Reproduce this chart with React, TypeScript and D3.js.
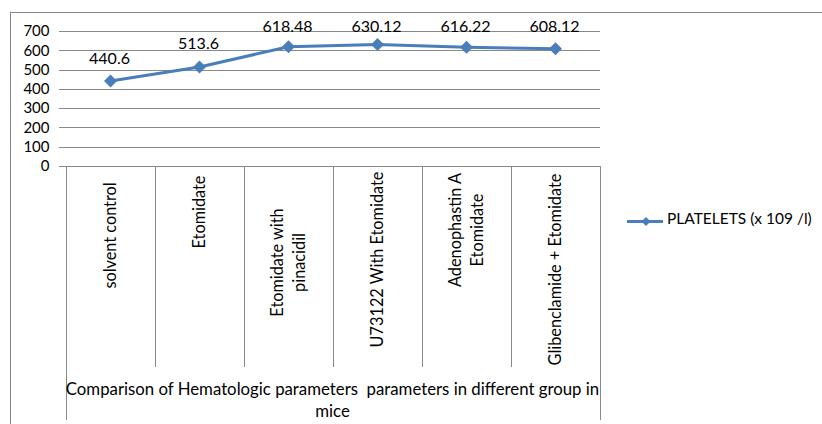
import React from "react";
import * as d3 from "d3";

// Platelet counts per treatment group
const categories: string[][] = [
  ["solvent control"],
  ["Etomidate"],
  ["Etomidate with", "pinacidil"],
  ["U73122 With Etomidate"],
  ["Adenophastin A", "Etomidate"],
  ["Glibenclamide + Etomidate"],
];
const platelets: number[] = [440.6, 513.6, 618.48, 630.12, 616.22, 608.12];
const yTicks: number[] = [0, 100, 200, 300, 400, 500, 600, 700];
const seriesName = "PLATELETS (x 109 /l)";
const axisTitle = [
  "Comparison of Hematologic parameters  parameters in different group in",
  "mice",
];

const W = 822;
const H = 424;
const plot = { left: 66, right: 600, top: 31, bottom: 166 };
// vertical centre of each rotated category label, measured below the axis
const labelCentre = [69.5, 46, 96.5, 93.5, 64, 103.5];

const FONT = "Lato, 'Open Sans', sans-serif";
const BLUE = "#4A7EBB";
const GRID = "#898989";

export default function App() {
  const keys = categories.map((_, i) => String(i));
  const x = d3.scaleBand<string>().domain(keys).range([plot.left, plot.right]);
  const y = d3.scaleLinear().domain([0, 700]).range([plot.bottom, plot.top]);
  const cx = (i: number) => (x(String(i)) ?? 0) + x.bandwidth() / 2;

  const line = d3
    .line<number>()
    .x((_, i) => cx(i))
    .y((d) => y(d));

  const diamond = (s: number) => `M0,${-s} L${s},0 L0,${s} L${-s},0 Z`;

  return (
    <svg
      width={W}
      height={H}
      style={{ position: "absolute", left: 0, top: 0, background: "#fff" }}
      fontFamily={FONT}
    >
      {/* chart frame */}
      <rect x={10.5} y={12.5} width={W} height={H} fill="none" stroke="#868686" strokeWidth={1} />

      {/* gridlines and value ticks */}
      {yTicks.map((t) => (
        <g key={t}>
          <line
            x1={plot.left - 7}
            x2={plot.right}
            y1={Math.round(y(t)) + 0.5}
            y2={Math.round(y(t)) + 0.5}
            stroke={GRID}
            strokeWidth={1}
          />
          <text
            x={49.5}
            y={y(t)}
            dy="0.35em"
            textAnchor="end"
            fontSize={15}
            fill="#000"
          >
            {t}
          </text>
        </g>
      ))}

      {/* category dividers */}
      {d3.range(categories.length + 1).map((i) => {
        const xx = Math.round(plot.left + i * x.bandwidth()) + 0.5;
        const outer = i === 0 || i === categories.length;
        return (
          <line
            key={i}
            x1={xx}
            x2={xx}
            y1={plot.bottom}
            y2={outer ? 420 : 367}
            stroke={GRID}
            strokeWidth={1}
          />
        );
      })}

      {/* rotated category labels */}
      {categories.map((lines, i) => {
        const c = cx(i);
        const cyy = plot.bottom + labelCentre[i];
        const n = lines.length;
        return (
          <g key={i}>
            {lines.map((ln, j) => {
              const lx = c + (j - (n - 1) / 2) * 22 + 5.5;
              return (
                <text
                  key={j}
                  transform={`translate(${lx},${cyy}) rotate(-90)`}
                  textAnchor="middle"
                  fontSize={16.3}
                  fill="#000"
                >
                  {ln}
                </text>
              );
            })}
          </g>
        );
      })}

      {/* axis title */}
      {axisTitle.map((t, i) => (
        <text
          key={i}
          x={(plot.left + plot.right) / 2 - 0.5}
          y={395 + i * 22}
          textAnchor="middle"
          fontSize={16.8}
          fill="#000"
          style={{ whiteSpace: "pre" }}
        >
          {t}
        </text>
      ))}

      {/* series line */}
      <path d={line(platelets) ?? ""} fill="none" stroke={BLUE} strokeWidth={3} strokeLinejoin="round" />
      {platelets.map((v, i) => (
        <path key={i} d={diamond(6.5)} transform={`translate(${cx(i)},${y(v)})`} fill={BLUE} />
      ))}

      {/* data labels */}
      {platelets.map((v, i) => (
        <text
          key={i}
          x={cx(i) - 1}
          y={Math.max(y(v) - 17.5, 32)}
          textAnchor="middle"
          fontSize={16}
          fill="#000"
        >
          {v}
        </text>
      ))}

      {/* legend */}
      <g>
        <line x1={627} x2={663} y1={221.5} y2={221.5} stroke={BLUE} strokeWidth={3} />
        <path d={diamond(4.5)} transform="translate(646,221.5)" fill={BLUE} />
        <text x={667} y={224} fontSize={15.5} fill="#000">
          {seriesName}
        </text>
      </g>
    </svg>
  );
}
